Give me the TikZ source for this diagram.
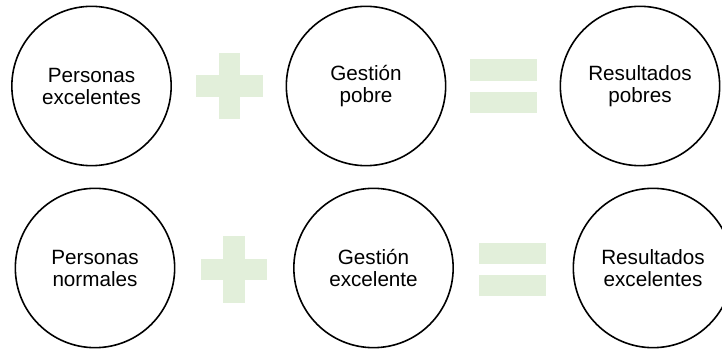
\documentclass[tikz,border=0pt]{standalone}
\usepackage{fontspec}
\setmainfont{Liberation Sans}
\definecolor{signgreen}{RGB}{226,239,218}
\begin{document}
\begin{tikzpicture}[x=0.75pt,y=-0.75pt,
  term/.style={circle,draw=black,line width=1.2pt,minimum size=119.5pt,inner sep=0pt,
    align=center,font=\fontsize{15.5pt}{16.5pt}\selectfont},
  hbar/.style={fill=signgreen,draw=none,minimum width=50pt,minimum height=16pt,inner sep=0pt},
  vbar/.style={fill=signgreen,draw=none,minimum width=16pt,minimum height=50pt,inner sep=0pt}]
\useasboundingbox (0,0) rectangle (722,349);
\begin{scope}
\clip (0,0) rectangle (722,349);
% first row
\node[term] (pe) at (91.5,86) {Personas\\excelentes};
\node[hbar] (plusAh) at (229.5,86) {};
\node[vbar] (plusAv) at (229.5,86) {};
\node[term] (gp) at (366,86) {Gestión\\pobre};
\node[hbar] (eqAt) at (503.5,70) {};
\node[hbar] (eqAb) at (503.5,102.5) {};
\node[term] (rp) at (640,86) {Resultados\\pobres};
% second row
\node[term] (pn) at (95,268) {Personas\\normales};
\node[hbar] (plusBh) at (234,269.5) {};
\node[vbar] (plusBv) at (234,269.5) {};
\node[term] (ge) at (373.5,268) {Gestión\\excelente};
\node[hbar] (eqBt) at (512.5,253.5) {};
\node[hbar] (eqBb) at (512.5,285.5) {};
\node[term] (re) at (653,268) {Resultados\\excelentes};
\end{scope}
\end{tikzpicture}
\end{document}
